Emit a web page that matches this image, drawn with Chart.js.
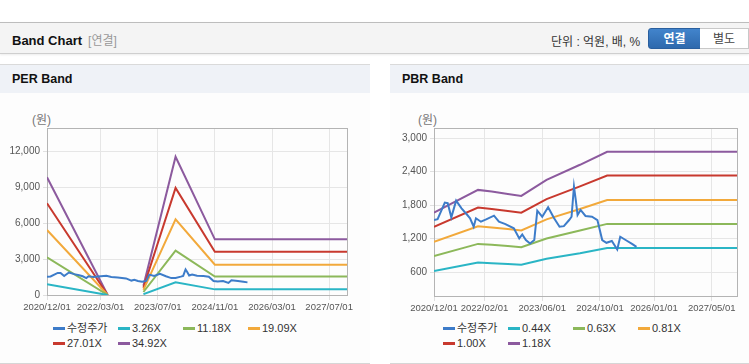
<!DOCTYPE html>
<html lang="ko">
<head>
<meta charset="utf-8">
<script src="https://cdn.jsdelivr.net/npm/chart.js@4.4.1/dist/chart.umd.min.js"></script>
<style>
  body { margin: 0; width: 749px; height: 364px; overflow: hidden; background: #fff;
         font-family: "Liberation Sans", "Noto Sans CJK KR", sans-serif; position: relative; }
  .abs { position: absolute; }
  #topbar { left: 0; top: 22px; width: 749px; height: 30px; background: #f4f4f4;
            border-top: 1px solid #bdbdbd; border-bottom: 1px solid #cfcfcf; box-shadow: 0 1px 2px rgba(0,0,0,0.08); }
  #title { left: 12px; top: 31px; font-size: 13px; font-weight: bold; color: #111; }
  #title span { font-weight: normal; color: #999; font-size: 12px; margin-left: 6px; }
  #unit { left: 551px; top: 32px; font-size: 12px; color: #333; }
  .btn { top: 28px; height: 21px; line-height: 21px; text-align: center; font-size: 12px; box-sizing: border-box; }
  #btn1 { left: 648px; width: 53px; background: linear-gradient(#4284cc, #2e69ad); color: #fff; font-weight: bold;
          border: 1px solid #2a5f9e; border-radius: 3px 0 0 3px; }
  #btn2 { left: 700px; width: 49px; background: #fff; color: #444; border: 1px solid #c8c8c8; border-left: none; }
  .panel { top: 64px; height: 298px; background: #fdfdfd; border-top: 1px solid #dadada; border-bottom: 1px solid #d6d6d6; }
  .panel .head { left: 0; top: 0; right: 0; height: 28px; background: #eff2f7; }
  .panel .head b { position: absolute; left: 12px; top: 7px; font-size: 12.5px; color: #111; }
  .unitlbl { top: 110px; font-size: 12px; color: #777; }
  .legend { top: 321px; width: 270px; font-size: 11px; color: #333; display: flex; flex-wrap: wrap; }
  .legend div { width: 65px; height: 15px; line-height: 15px; white-space: nowrap; }
  .legend i { display: inline-block; width: 12px; height: 3px; vertical-align: middle; margin-right: 2px; position: relative; top: -1px; }
</style>
</head>
<body>
<div id="topbar" class="abs"></div>
<div id="title" class="abs">Band Chart<span>[연결]</span></div>
<div id="unit" class="abs">단위 : 억원, 배, %</div>
<div id="btn1" class="abs btn">연결</div>
<div id="btn2" class="abs btn">별도</div>

<div class="panel abs" style="left:0;width:370px"><div class="head abs"><b>PER Band</b></div></div>
<div class="panel abs" style="left:390px;width:359px"><div class="head abs"><b>PBR Band</b></div></div>

<div class="unitlbl abs" style="left:32px">(원)</div>
<div class="unitlbl abs" style="left:418px">(원)</div>

<canvas id="per" class="abs" width="370" height="215" style="left:0;top:100px"></canvas>
<canvas id="pbr" class="abs" width="359" height="216" style="left:390px;top:100px"></canvas>
<div id="perLegend" class="legend abs" style="left:53px"></div>
<div id="pbrLegend" class="legend abs" style="left:443px"></div>

<script>
const priceDates = ['2020/12/01','2021/01/01','2021/03/01','2021/03/25','2021/04/25','2021/06/05','2021/07/20','2021/09/01',
  '2021/10/01','2021/11/01','2021/11/20','2022/01/01','2022/02/10','2022/04/20','2022/06/01','2022/07/25','2022/10/05',
  '2022/11/20','2022/12/15','2023/01/15','2023/02/20','2023/03/25','2023/04/20','2023/06/01','2023/07/20','2023/09/10',
  '2023/10/25','2023/12/01','2024/01/15','2024/02/05','2024/02/25','2024/03/10','2024/03/25','2024/04/20','2024/06/01',
  '2024/07/25','2024/09/10','2024/10/20','2024/11/25','2025/01/10','2025/02/25','2025/03/20','2025/05/15','2025/07/01','2025/08/05'];
const priceValues = [1534,1550,1845,1835,1582,1881,1744,1642,1565,1414,1565,1504,1540,1611,1504,1462,1385,
  1205,1277,1175,1115,1175,1701,1593,1762,1565,1414,1425,1534,1593,2133,1893,1624,1714,1606,1593,1534,1175,1127,
  1160,1008,1235,1163,1103,1055];

const perDates = ['2020/12/01','2022/05/01','2022/10/01','2023/03/01','2023/12/01','2024/11/01','2027/12/01'];
const per326 = [890, 0, null, 70, 1060, 470, 470];
const per1118 = [3150, 0, null, 250, 3700, 1540, 1540];
const per1909 = [5430, 0, null, 430, 6320, 2530, 2530];
const per2701 = [7660, 0, null, 600, 8940, 3620, 3620];
const per3492 = [9830, 0, null, 780, 11550, 4650, 4650];

const pbrDates = ['2020/12/01','2021/12/07','2022/04/01','2022/08/15','2022/12/07','2023/07/07','2024/04/15','2024/12/01','2027/12/01'];
const pbr044 = [621, 773, 762, 746, 733, 840, 941, 1035, 1035];
const pbr063 = [889, 1107, 1091, 1069, 1049, 1203, 1347, 1465, 1465];
const pbr081 = [1143, 1422, 1402, 1373, 1348, 1546, 1731, 1890, 1890];
const pbr100 = [1411, 1756, 1731, 1695, 1665, 1909, 2137, 2330, 2330];
const pbr118 = [1665, 2073, 2043, 2001, 1965, 2253, 2522, 2755, 2755];

const perXTicks = ['2020/12/01','2022/03/01','2023/07/01','2024/11/01','2026/03/01','2027/07/01'];
const pbrXTicks = ['2020/12/01','2022/02/01','2023/06/01','2024/10/01','2026/01/01','2027/05/01'];
const perYTicks = [0, 3000, 6000, 9000, 12000];
const pbrYTicks = [600, 1200, 1800, 2400, 3000];

const colors = ['#3d7cc9', '#2ab5c5', '#8cb85a', '#f2a93b', '#c8392e', '#8c5a9e'];

// months since 2020/12/01
const toM = s => {
  const [y, m, d] = s.split('/').map(Number);
  return (y - 2020) * 12 + (m - 12) + (d - 1) / 30;
};
const pts = (dates, vals) => dates.map((d, i) => ({ x: toM(d), y: vals[i] }));

const frame = {
  id: 'frame',
  beforeDatasetsDraw(chart) {
    const { ctx, chartArea: a } = chart;
    ctx.save();
    ctx.strokeStyle = '#b4b4b4';
    ctx.lineWidth = 1;
    ctx.strokeRect(Math.round(a.left) + 0.5, Math.round(a.top) + 0.5, Math.round(a.right - a.left), Math.round(a.bottom - a.top));
    ctx.restore();
  }
};

function makeChart(id, legendId, series, labels, xTicks, yTicks, yMin, yMax, yWidth, padRight) {
  const datasets = series.map((s, i) => ({
    label: labels[i], data: s, borderColor: colors[i], backgroundColor: colors[i],
    borderWidth: 2, pointRadius: 0, tension: 0, spanGaps: false, fill: false
  }));
  new Chart(document.getElementById(id), {
    type: 'line',
    data: { datasets },
    plugins: [frame],
    options: {
      responsive: false, animation: false, parsing: false,
      layout: { padding: { top: 28, right: padRight, left: 0, bottom: 0 } },
      plugins: { legend: { display: false }, tooltip: { enabled: false } },
      scales: {
        x: {
          type: 'linear', min: 0, max: 84,
          afterBuildTicks: sc => { sc.ticks = xTicks.map(t => ({ value: toM(t) })); },
          afterFit: sc => { sc.height = 20; },
          ticks: { autoSkip: false, maxRotation: 0, padding: 2, color: '#555', font: { size: 9.5, family: 'Liberation Sans' },
                   callback: v => xTicks.find(t => Math.abs(toM(t) - v) < 0.01) || '' },
          grid: { color: '#e6e6e6', tickColor: '#e0e0e0', tickLength: 5 },
          border: { display: false }
        },
        y: {
          min: yMin, max: yMax,
          afterBuildTicks: sc => { sc.ticks = yTicks.map(v => ({ value: v })); },
          afterFit: sc => { sc.width = yWidth; },
          ticks: { padding: 3, color: '#555', font: { size: 10, family: 'Liberation Sans' },
                   callback: v => v.toLocaleString('en-US') },
          grid: { color: '#e6e6e6', tickColor: '#e0e0e0', tickLength: 4 },
          border: { display: false }
        }
      }
    }
  });
  document.getElementById(legendId).innerHTML = labels.map((l, i) =>
    `<div><i style="background:${colors[i]}"></i>${l}</div>`).join('');
}

makeChart('per', 'perLegend',
  [pts(priceDates, priceValues), pts(perDates, per326), pts(perDates, per1118), pts(perDates, per1909), pts(perDates, per2701), pts(perDates, per3492)],
  ['수정주가', '3.26X', '11.18X', '19.09X', '27.01X', '34.92X'],
  perXTicks, perYTicks, 0, 13950, 47, 23);

makeChart('pbr', 'pbrLegend',
  [pts(priceDates, priceValues), pts(pbrDates, pbr044), pts(pbrDates, pbr063), pts(pbrDates, pbr081), pts(pbrDates, pbr100), pts(pbrDates, pbr118)],
  ['수정주가', '0.44X', '0.63X', '0.81X', '1.00X', '1.18X'],
  pbrXTicks, pbrYTicks, 175, 3180, 44, 12);
</script>
</body>
</html>
